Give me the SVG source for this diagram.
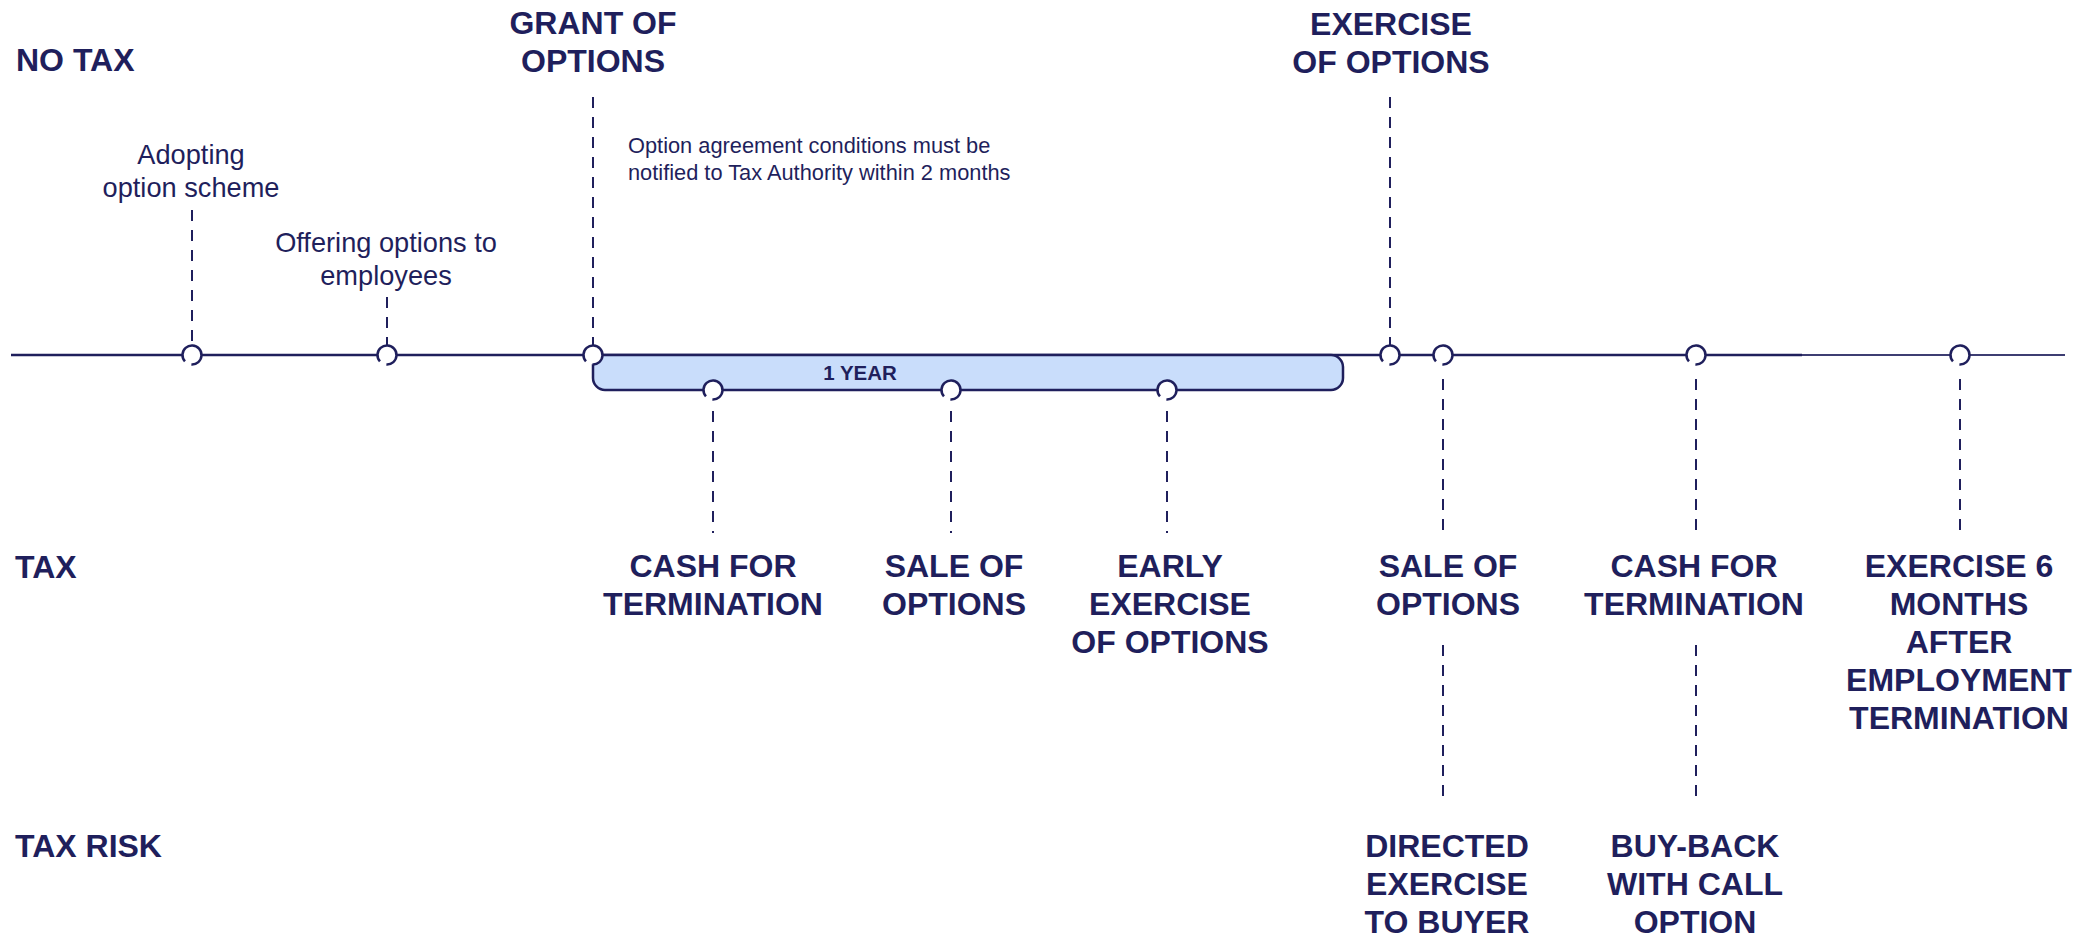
<svg xmlns="http://www.w3.org/2000/svg" width="2096" height="939" viewBox="0 0 2096 939">
<style>
  .h{font-family:"Liberation Sans",Arial,sans-serif;font-weight:bold;font-size:32px;fill:#1f1f5c;}
  .m{font-family:"Liberation Sans",Arial,sans-serif;font-size:27.2px;fill:#1f1f5c;}
  .s{font-family:"Liberation Sans",Arial,sans-serif;font-size:21.8px;fill:#1f1f5c;}
  .c{text-anchor:middle;}
  .dash{stroke:#1f1f5c;stroke-width:2;stroke-dasharray:11 9;fill:none;}
  .node{fill:#fff;stroke:#1f1f5c;stroke-width:2.5;stroke-dasharray:52 7.7;}
</style>
<rect width="2096" height="939" fill="#fff"/>
<g id="connectors">
  <line x1="11" y1="355" x2="1802" y2="355" stroke="#1f1f5c" stroke-width="2.6"/>
  <line x1="1802" y1="355" x2="2065" y2="355" stroke="#3d3d72" stroke-width="1.8"/>
  <path d="M593 355 H1331 A12 12 0 0 1 1343 367 V378 A12 12 0 0 1 1331 390 H605 A12 12 0 0 1 593 378 Z" fill="#c9ddfb" stroke="#1f1f5c" stroke-width="2.5"/>
  <line class="dash" x1="192" y1="210" x2="192" y2="345"/>
  <line class="dash" x1="387" y1="297" x2="387" y2="345"/>
  <line class="dash" x1="593" y1="97" x2="593" y2="345"/>
  <line class="dash" x1="1390" y1="97" x2="1390" y2="345"/>
  <line class="dash" x1="713" y1="411" x2="713" y2="533"/>
  <line class="dash" x1="951" y1="411" x2="951" y2="533"/>
  <line class="dash" x1="1167" y1="411" x2="1167" y2="533"/>
  <line class="dash" x1="1443" y1="379" x2="1443" y2="533"/>
  <line class="dash" x1="1696" y1="379" x2="1696" y2="533"/>
  <line class="dash" x1="1960" y1="379" x2="1960" y2="533"/>
  <line class="dash" x1="1443" y1="645" x2="1443" y2="804"/>
  <line class="dash" x1="1696" y1="645" x2="1696" y2="804"/>
</g>
<g id="lanes">
  <text class="h" x="16" y="71">NO TAX</text>
  <text class="h" x="15" y="578">TAX</text>
  <text class="h" x="15" y="857">TAX RISK</text>
</g>
<g id="one-year">
  <text class="h c" x="860" y="380" style="font-size:20.5px">1 YEAR</text>
</g>
<g id="adopting">
  <circle class="node" cx="192" cy="355" r="9.5" transform="rotate(138 192 355)"/>
  <text class="m c" x="191" y="164">Adopting</text>
  <text class="m c" x="191" y="197">option scheme</text>
</g>
<g id="offering">
  <circle class="node" cx="387" cy="355" r="9.5" transform="rotate(138 387 355)"/>
  <text class="m c" x="386" y="252">Offering options to</text>
  <text class="m c" x="386" y="285">employees</text>
</g>
<g id="grant">
  <circle class="node" cx="593" cy="355" r="9.5" transform="rotate(138 593 355)"/>
  <text class="h c" x="593" y="34">GRANT OF</text>
  <text class="h c" x="593" y="72">OPTIONS</text>
  <text class="s" x="628" y="153">Option agreement conditions must be</text>
  <text class="s" x="628" y="180">notified to Tax Authority within 2 months</text>
</g>
<g id="exercise">
  <circle class="node" cx="1390" cy="355" r="9.5" transform="rotate(138 1390 355)"/>
  <text class="h c" x="1391" y="35">EXERCISE</text>
  <text class="h c" x="1391" y="73">OF OPTIONS</text>
</g>
<g id="cash-early">
  <circle class="node" cx="713" cy="390" r="9.5" transform="rotate(138 713 390)"/>
  <text class="h c" x="713" y="577">CASH FOR</text>
  <text class="h c" x="713" y="615">TERMINATION</text>
</g>
<g id="sale-early">
  <circle class="node" cx="951" cy="390" r="9.5" transform="rotate(138 951 390)"/>
  <text class="h c" x="954" y="577">SALE OF</text>
  <text class="h c" x="954" y="615">OPTIONS</text>
</g>
<g id="early-exercise">
  <circle class="node" cx="1167" cy="390" r="9.5" transform="rotate(138 1167 390)"/>
  <text class="h c" x="1170" y="577">EARLY</text>
  <text class="h c" x="1170" y="615">EXERCISE</text>
  <text class="h c" x="1170" y="653">OF OPTIONS</text>
</g>
<g id="sale-late">
  <circle class="node" cx="1443" cy="355" r="9.5" transform="rotate(138 1443 355)"/>
  <text class="h c" x="1448" y="577">SALE OF</text>
  <text class="h c" x="1448" y="615">OPTIONS</text>
</g>
<g id="cash-late">
  <circle class="node" cx="1696" cy="355" r="9.5" transform="rotate(138 1696 355)"/>
  <text class="h c" x="1694" y="577">CASH FOR</text>
  <text class="h c" x="1694" y="615">TERMINATION</text>
</g>
<g id="exercise-6-months">
  <circle class="node" cx="1960" cy="355" r="9.5" transform="rotate(138 1960 355)"/>
  <text class="h c" x="1959" y="577">EXERCISE 6</text>
  <text class="h c" x="1959" y="615">MONTHS</text>
  <text class="h c" x="1959" y="653">AFTER</text>
  <text class="h c" x="1959" y="691">EMPLOYMENT</text>
  <text class="h c" x="1959" y="729">TERMINATION</text>
</g>
<g id="directed-exercise">
  <text class="h c" x="1447" y="857">DIRECTED</text>
  <text class="h c" x="1447" y="895">EXERCISE</text>
  <text class="h c" x="1447" y="933">TO BUYER</text>
</g>
<g id="buy-back">
  <text class="h c" x="1695" y="857">BUY-BACK</text>
  <text class="h c" x="1695" y="895">WITH CALL</text>
  <text class="h c" x="1695" y="933">OPTION</text>
</g>
</svg>
